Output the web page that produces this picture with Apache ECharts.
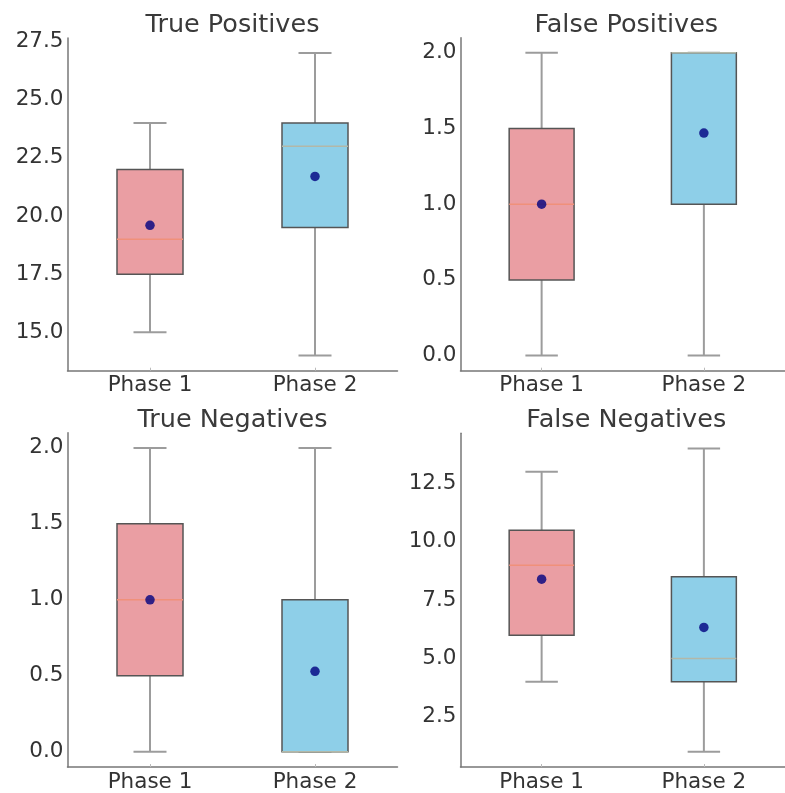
<!DOCTYPE html>
<html>
<head>
<meta charset="utf-8">
<script src="https://cdn.jsdelivr.net/npm/echarts@6/dist/echarts.min.js"></script>
<style>
html,body{margin:0;padding:0;background:#fff;}
#chart{width:785px;height:793px;}
</style>
</head>
<body>
<div id="chart"></div>
<script>
// ---- data ----
const categories = ['Phase 1', 'Phase 2'];
const panelTitles = ['True Positives', 'False Positives', 'True Negatives', 'False Negatives'];
// [min, Q1, median, Q3, max]
const tpPhase1 = [15, 17.5, 19, 22, 24];
const tpPhase2 = [14, 19.5, 23, 24, 27];
const tpMeans = [19.6, 21.7];
const fpPhase1 = [0, 0.5, 1, 1.5, 2];
const fpPhase2 = [0, 1, 2, 2, 2];
const fpMeans = [1.0, 1.47];
const tnPhase1 = [0, 0.5, 1, 1.5, 2];
const tnPhase2 = [0, 0, 0, 1, 2];
const tnMeans = [1.0, 0.53];
const fnPhase1 = [4, 6, 9, 10.5, 13];
const fnPhase2 = [1, 4, 5, 8.5, 14];
const fnMeans = [8.4, 6.33];
// tick labels
const tpTicks = [15, 17.5, 20, 22.5, 25, 27.5];
const fpTicks = [0, 0.5, 1, 1.5, 2];
const tnTicks = [0, 0.5, 1, 1.5, 2];
const fnTicks = [2.5, 5, 7.5, 10, 12.5];

// ---- styling / layout ----
const FONT = 'DejaVu Sans';
const TEXT = '#333333';
const boxFill = ['#EA9EA3', '#8ECFE8'];
const medianColor = ['#F0907A', '#B2B8A8'];
const panels = [
  {p1: tpPhase1, p2: tpPhase2, means: tpMeans, ticks: tpTicks, min: 13.35, max: 27.65,
   grid: {left: 67.5, top: 38, width: 330, height: 332.7}, titleTop: 12},
  {p1: fpPhase1, p2: fpPhase2, means: fpMeans, ticks: fpTicks, min: -0.1, max: 2.1,
   grid: {left: 460.5, top: 37.7, width: 331.5, height: 333}, titleTop: 12},
  {p1: tnPhase1, p2: tnPhase2, means: tnMeans, ticks: tnTicks, min: -0.1, max: 2.1,
   grid: {left: 67.5, top: 432.7, width: 330, height: 335}, titleTop: 407},
  {p1: fnPhase1, p2: fnPhase2, means: fnMeans, ticks: fnTicks, min: 0.35, max: 14.65,
   grid: {left: 460.5, top: 433.3, width: 331.5, height: 334}, titleTop: 407}
];

function renderBox(params, api) {
  const idx = api.value(0);
  const vmin = api.value(1), q1 = api.value(2), med = api.value(3), q3 = api.value(4), vmax = api.value(5);
  const band = api.size([1, 0])[0];
  const half = band * 0.2;
  const capHalf = band * 0.1;
  const pMin = api.coord([idx, vmin]);
  const pQ1 = api.coord([idx, q1]);
  const pMed = api.coord([idx, med]);
  const pQ3 = api.coord([idx, q3]);
  const pMax = api.coord([idx, vmax]);
  const cx = pMin[0];
  const whiskerStyle = {stroke: '#9c9c9c', lineWidth: 2};
  return {
    type: 'group',
    children: [
      {type: 'line', shape: {x1: cx, y1: pQ1[1], x2: cx, y2: pMin[1]}, style: whiskerStyle},
      {type: 'line', shape: {x1: cx, y1: pQ3[1], x2: cx, y2: pMax[1]}, style: whiskerStyle},
      {type: 'line', shape: {x1: cx - capHalf, y1: pMin[1], x2: cx + capHalf, y2: pMin[1]}, style: whiskerStyle},
      {type: 'line', shape: {x1: cx - capHalf, y1: pMax[1], x2: cx + capHalf, y2: pMax[1]}, style: whiskerStyle},
      {type: 'rect', shape: {x: cx - half, y: pQ3[1], width: half * 2, height: pQ1[1] - pQ3[1]},
       style: {fill: boxFill[idx], stroke: '#555555', lineWidth: 1.5}},
      {type: 'line', shape: {x1: cx - half, y1: pMed[1], x2: cx + half, y2: pMed[1]},
       style: {stroke: medianColor[idx], lineWidth: 1.5}}
    ]
  };
}

const option = {
  animation: false,
  backgroundColor: '#ffffff',
  title: [], grid: [], xAxis: [], yAxis: [], series: []
};

panels.forEach((p, i) => {
  const g = p.grid;
  option.title.push({
    text: panelTitles[i], left: g.left + g.width / 2, top: p.titleTop, textAlign: 'center', padding: 0,
    textStyle: {fontFamily: FONT, fontSize: 25.5, fontWeight: 'normal', color: '#3a3a3a'}
  });
  option.grid.push({left: g.left, top: g.top, width: g.width, height: g.height, containLabel: false});
  option.xAxis.push({
    type: 'category', gridIndex: i, data: categories,
    axisLine: {show: true, onZero: false, lineStyle: {color: '#777777', width: 1.5}},
    axisTick: {show: true, inside: true, length: 3, alignWithLabel: true, lineStyle: {color: '#bbbbbb'}},
    axisLabel: {fontFamily: FONT, fontSize: 21.5, color: TEXT, margin: 4},
    splitLine: {show: false}
  });
  option.yAxis.push({
    type: 'value', gridIndex: i, min: p.min, max: p.max,
    axisLine: {show: true, onZero: false, lineStyle: {color: '#777777', width: 1.5}},
    axisTick: {show: false, customValues: p.ticks},
    axisLabel: {fontFamily: FONT, fontSize: 21.5, color: TEXT, margin: 4, customValues: p.ticks,
      formatter: v => Number(v).toFixed(1)},
    splitLine: {show: false}
  });
  option.series.push({
    type: 'custom', xAxisIndex: i, yAxisIndex: i,
    renderItem: renderBox,
    encode: {x: 0, y: [1, 2, 3, 4, 5]},
    data: [[0].concat(p.p1), [1].concat(p.p2)],
    z: 2
  });
  option.series.push({
    type: 'scatter', xAxisIndex: i, yAxisIndex: i,
    data: p.means.map((m, k) => [k, m]),
    symbol: 'circle', symbolSize: 9.5,
    itemStyle: {color: '#000080'},
    z: 3
  });
});

const chart = echarts.init(document.getElementById('chart'), null, {renderer: 'canvas'});
chart.setOption(option);
</script>
</body>
</html>
